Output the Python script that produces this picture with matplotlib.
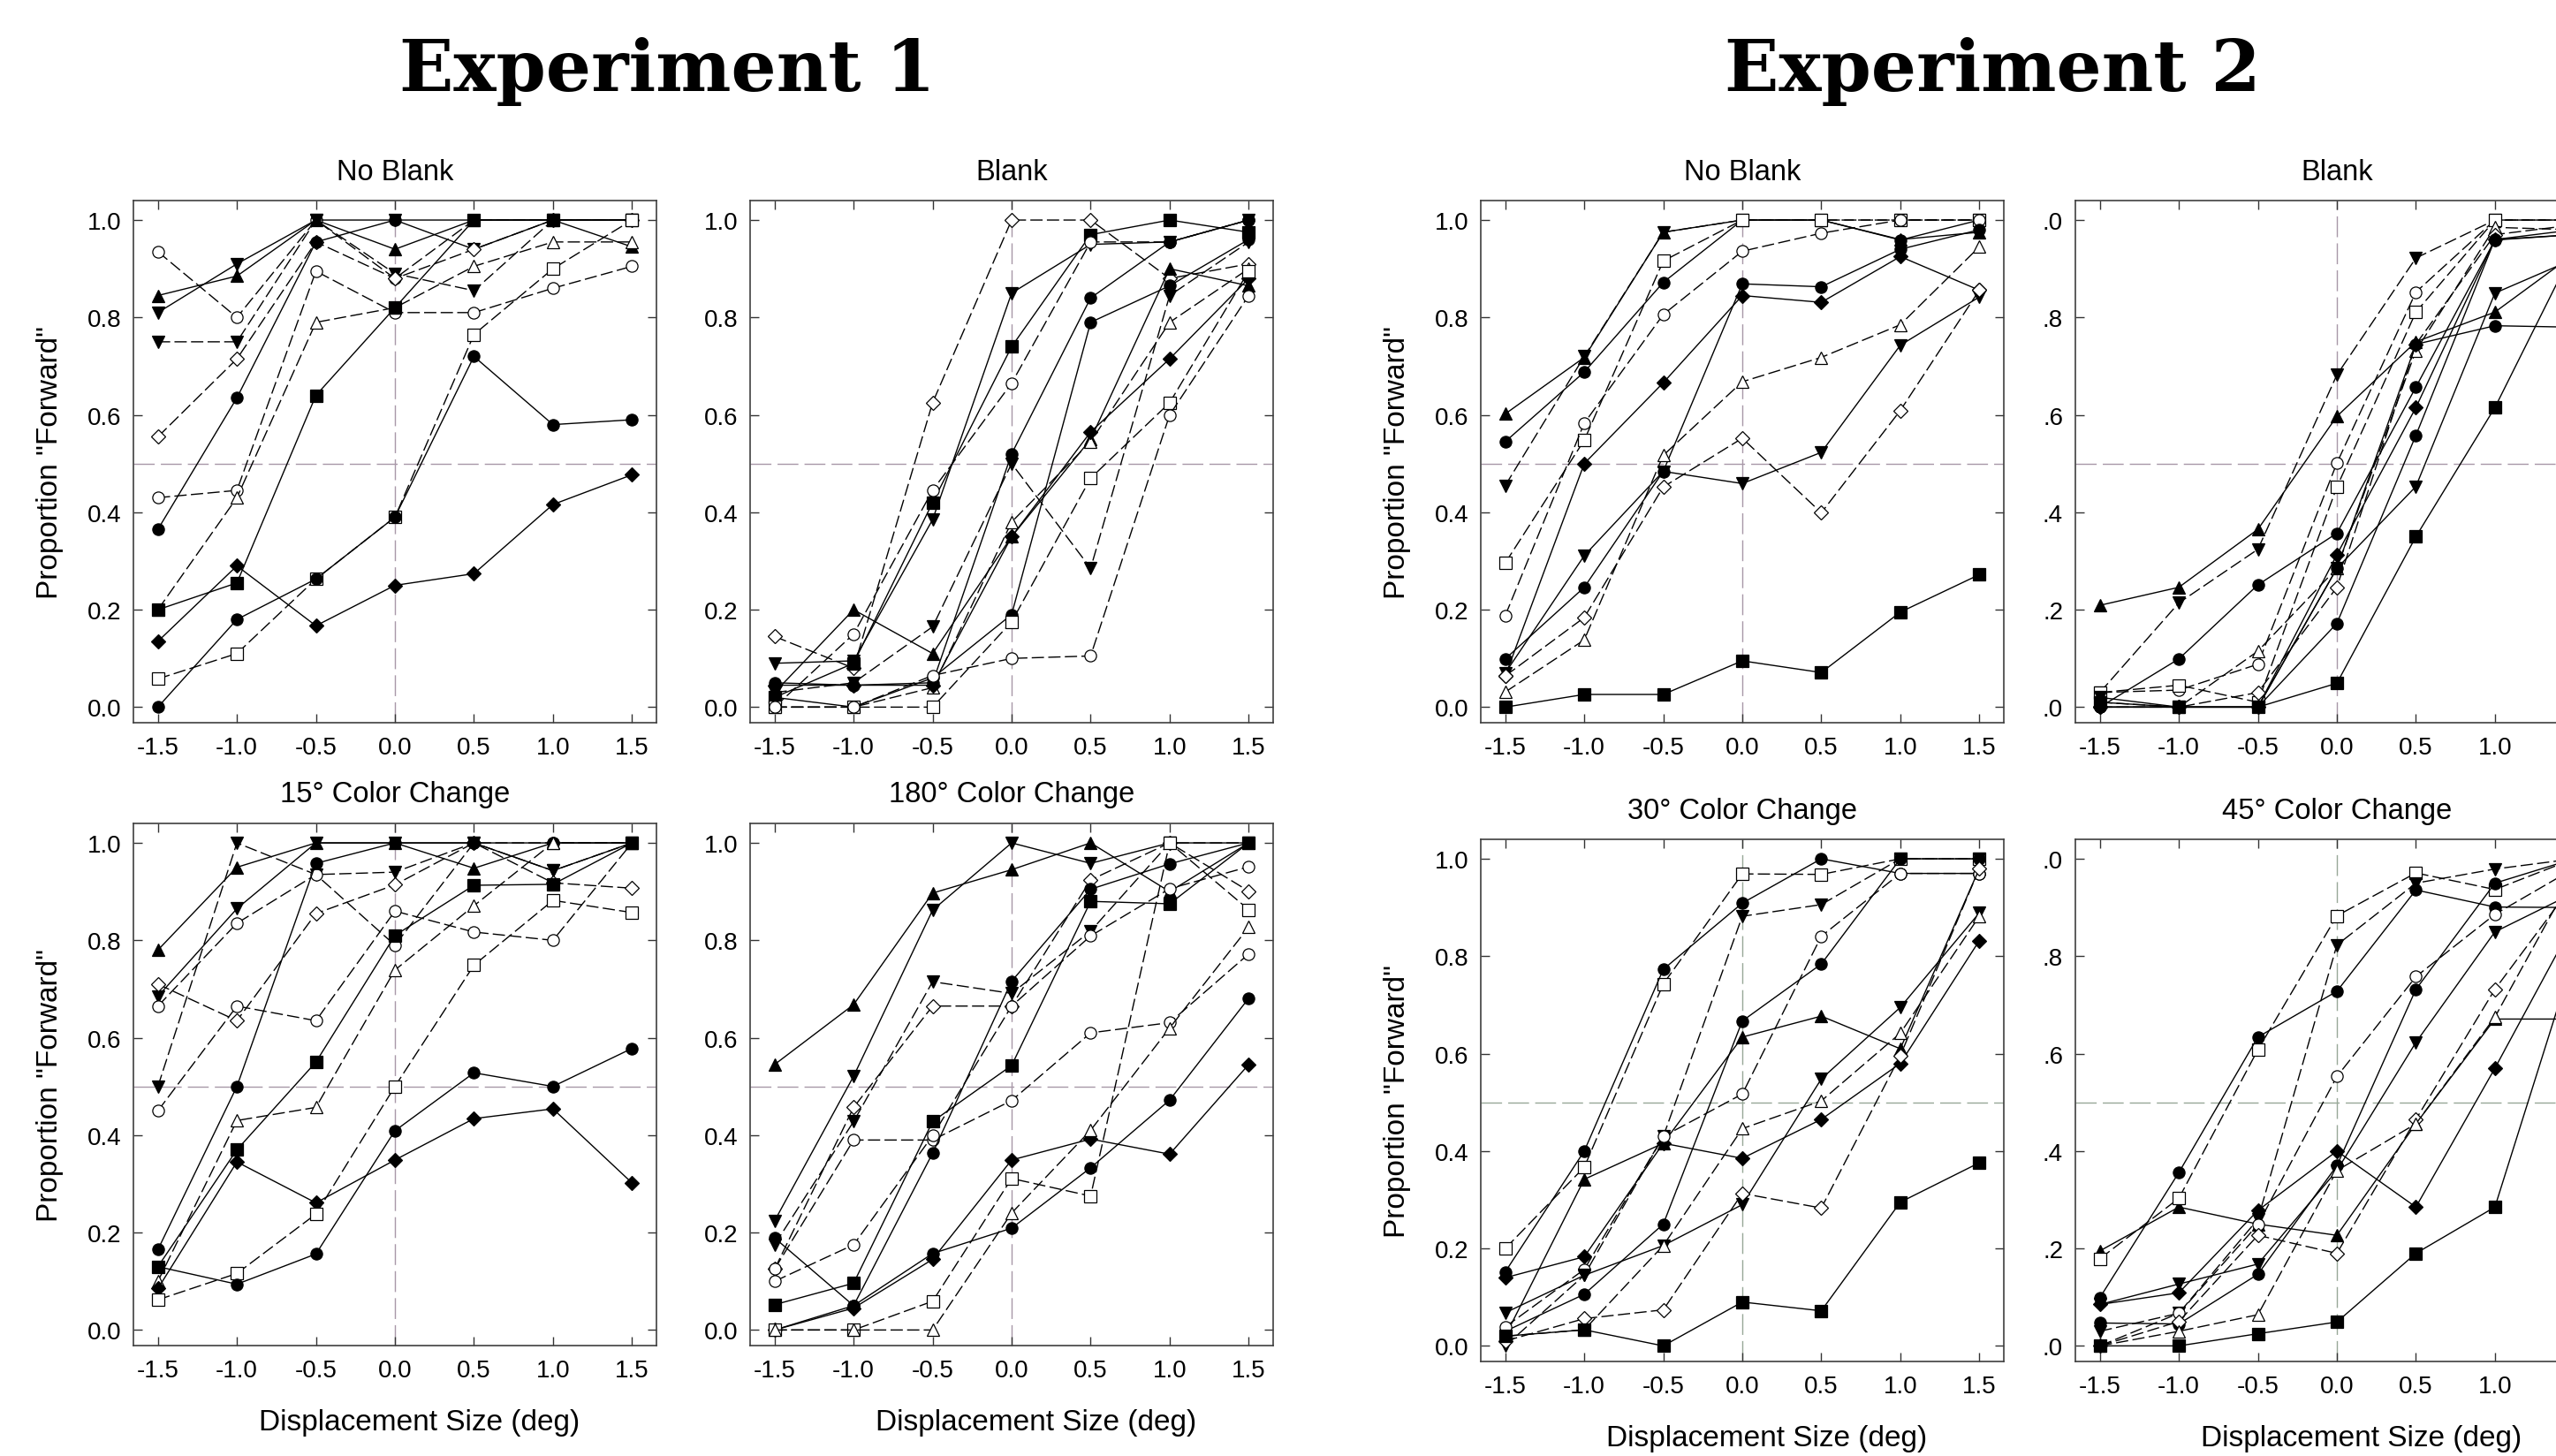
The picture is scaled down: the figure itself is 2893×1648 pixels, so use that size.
import matplotlib.pyplot as plt

plt.rcParams['font.family'] = ['Liberation Sans', 'DejaVu Sans']
plt.rcParams['axes.unicode_minus'] = False

x_disp = [-1.5, -1.0, -0.5, 0.0, 0.5, 1.0, 1.5]
y_ticks = [0.0, 0.2, 0.4, 0.6, 0.8, 1.0]

# each style is (marker, filled/open, line style)
e1_noblank_style = [('o', 'o', '--'), ('^', 'f', '-'), ('v', 'f', '-'), ('v', 'f', '--'),
                    ('D', 'o', '--'), ('o', 'o', '--'), ('^', 'o', '--'), ('o', 'f', '-'),
                    ('s', 'f', '-'), ('D', 'f', '-'), ('s', 'o', '--'), ('o', 'f', '-')]
e1_noblank = [
    [0.935, 0.80, 1.0, 0.88, 1.0, 1.0, 1.0],
    [0.845, 0.885, 1.0, 0.94, 1.0, 1.0, 0.945],
    [0.81, 0.91, 1.0, 1.0, 0.94, 1.0, 1.0],
    [0.75, 0.75, 1.0, 0.89, 0.855, 1.0, 1.0],
    [0.555, 0.715, 0.955, 0.88, 0.94, 1.0, 1.0],
    [0.43, 0.445, 0.895, 0.81, 0.81, 0.86, 0.905],
    [0.2, 0.43, 0.79, 0.82, 0.905, 0.955, 0.955],
    [0.365, 0.635, 0.955, 1.0, 1.0, 1.0, 1.0],
    [0.2, 0.255, 0.64, 0.82, 1.0, 1.0, 1.0],
    [0.135, 0.29, 0.167, 0.25, 0.274, 0.416, 0.477],
    [0.058, 0.11, 0.263, 0.39, 0.765, 0.9, 1.0],
    [0.0, 0.18, 0.263, 0.39, 0.72, 0.58, 0.59],
]

e1_blank_style = [('D', 'o', '--'), ('v', 'f', '-'), ('s', 'f', '-'), ('o', 'o', '--'),
                  ('o', 'f', '-'), ('v', 'f', '--'), ('^', 'f', '-'), ('^', 'o', '--'),
                  ('D', 'f', '-'), ('o', 'f', '-'), ('s', 'o', '--'), ('o', 'o', '--')]
e1_blank = [
    [0.145, 0.08, 0.625, 1.0, 1.0, 0.88, 0.91],
    [0.09, 0.095, 0.385, 0.85, 0.95, 0.955, 1.0],
    [0.02, 0.09, 0.42, 0.74, 0.97, 1.0, 0.975],
    [0.0, 0.15, 0.445, 0.665, 0.955, 0.955, 1.0],
    [0.05, 0.045, 0.05, 0.52, 0.84, 0.955, 1.0],
    [0.03, 0.05, 0.165, 0.5, 0.285, 0.845, 0.955],
    [0.03, 0.2, 0.11, 0.35, 0.55, 0.9, 0.865],
    [0.0, 0.0, 0.04, 0.38, 0.545, 0.79, 0.9],
    [0.045, 0.045, 0.045, 0.35, 0.565, 0.715, 0.88],
    [0.02, 0.0, 0.06, 0.19, 0.79, 0.865, 0.96],
    [0.0, 0.0, 0.0, 0.175, 0.47, 0.625, 0.895],
    [0.0, 0.0, 0.065, 0.1, 0.105, 0.6, 0.845],
]

e1_15_style = [('^', 'f', '-'), ('v', 'f', '--'), ('v', 'f', '-'), ('D', 'o', '--'),
               ('o', 'o', '--'), ('o', 'o', '--'), ('o', 'f', '-'), ('^', 'o', '--'),
               ('s', 'f', '-'), ('D', 'f', '-'), ('s', 'o', '--'), ('o', 'f', '-')]
e1_15 = [
    [0.78, 0.95, 1.0, 1.0, 0.948, 1.0, 1.0],
    [0.5, 1.0, 0.935, 0.94, 1.0, 0.943, 1.0],
    [0.685, 0.865, 1.0, 1.0, 1.0, 0.943, 1.0],
    [0.71, 0.635, 0.855, 0.914, 1.0, 0.918, 0.907],
    [0.665, 0.835, 0.935, 0.79, 1.0, 1.0, 1.0],
    [0.45, 0.665, 0.635, 0.86, 0.817, 0.8, 1.0],
    [0.165, 0.5, 0.958, 1.0, 1.0, 1.0, 1.0],
    [0.1, 0.43, 0.457, 0.739, 0.871, 1.0, 1.0],
    [0.13, 0.37, 0.55, 0.81, 0.913, 0.915, 1.0],
    [0.085, 0.345, 0.261, 0.349, 0.434, 0.454, 0.302],
    [0.062, 0.116, 0.238, 0.5, 0.749, 0.882, 0.857],
    [0.13, 0.094, 0.156, 0.409, 0.528, 0.5, 0.578],
]

e1_180_style = [('^', 'f', '-'), ('v', 'f', '-'), ('v', 'f', '--'), ('D', 'o', '--'),
                ('o', 'o', '--'), ('o', 'f', '-'), ('s', 'f', '-'), ('o', 'o', '--'),
                ('D', 'f', '-'), ('o', 'f', '-'), ('s', 'o', '--'), ('^', 'o', '--')]
e1_180 = [
    [0.545, 0.668, 0.897, 0.945, 1.0, 0.9, 1.0],
    [0.224, 0.521, 0.862, 1.0, 0.958, 1.0, 1.0],
    [0.175, 0.428, 0.715, 0.691, 0.819, 1.0, 1.0],
    [0.125, 0.457, 0.665, 0.665, 0.924, 1.0, 0.901],
    [0.125, 0.39, 0.39, 0.471, 0.61, 0.631, 0.772],
    [0.189, 0.05, 0.363, 0.716, 0.905, 0.957, 1.0],
    [0.052, 0.096, 0.428, 0.543, 0.88, 0.875, 1.0],
    [0.1, 0.175, 0.399, 0.665, 0.809, 0.906, 0.951],
    [0.0, 0.045, 0.145, 0.349, 0.392, 0.361, 0.545],
    [0.0, 0.05, 0.157, 0.209, 0.333, 0.472, 0.681],
    [0.0, 0.0, 0.059, 0.311, 0.275, 1.0, 0.863],
    [0.0, 0.0, 0.0, 0.24, 0.41, 0.62, 0.827],
]

e2_noblank_style = [('^', 'f', '-'), ('v', 'f', '--'), ('o', 'f', '-'), ('s', 'o', '--'),
                    ('o', 'o', '--'), ('D', 'f', '-'), ('o', 'f', '-'), ('v', 'f', '-'),
                    ('^', 'o', '--'), ('D', 'o', '--'), ('s', 'f', '-')]
e2_noblank = [
    [0.602, 0.718, 0.975, 1.0, 1.0, 0.96, 0.975],
    [0.455, 0.72, 0.975, 1.0, 1.0, 1.0, 1.0],
    [0.545, 0.688, 0.872, 1.0, 1.0, 0.959, 1.0],
    [0.296, 0.548, 0.916, 1.0, 1.0, 1.0, 1.0],
    [0.188, 0.583, 0.806, 0.936, 0.973, 1.0, 1.0],
    [0.064, 0.5, 0.666, 0.845, 0.831, 0.925, 0.856],
    [0.099, 0.246, 0.484, 0.869, 0.863, 0.94, 0.98],
    [0.07, 0.311, 0.484, 0.459, 0.523, 0.743, 0.842],
    [0.031, 0.138, 0.517, 0.668, 0.718, 0.785, 0.945],
    [0.064, 0.184, 0.452, 0.552, 0.399, 0.609, 0.856],
    [0.0, 0.026, 0.026, 0.095, 0.071, 0.195, 0.272],
]

e2_blank_style = [('^', 'f', '-'), ('v', 'f', '--'), ('o', 'f', '-'), ('o', 'o', '--'),
                  ('s', 'o', '--'), ('^', 'o', '--'), ('D', 'o', '--'), ('D', 'f', '-'),
                  ('o', 'f', '-'), ('v', 'f', '-'), ('s', 'f', '-'), ('o', 'f', '-')]
e2_blank = [
    [0.209, 0.246, 0.365, 0.597, 0.75, 0.811, 0.93],
    [0.03, 0.214, 0.324, 0.682, 0.922, 1.0, 1.0],
    [0.0, 0.099, 0.251, 0.357, 0.657, 0.959, 0.97],
    [0.03, 0.035, 0.088, 0.501, 0.852, 1.0, 1.0],
    [0.03, 0.045, 0.01, 0.452, 0.811, 1.0, 1.0],
    [0.01, 0.0, 0.115, 0.285, 0.732, 0.985, 0.98],
    [0.0, 0.0, 0.03, 0.246, 0.745, 0.97, 0.99],
    [0.0, 0.0, 0.0, 0.313, 0.615, 0.96, 0.97],
    [0.0, 0.0, 0.0, 0.172, 0.558, 0.96, 0.98],
    [0.02, 0.0, 0.0, 0.285, 0.453, 0.85, 0.92],
    [0.01, 0.0, 0.0, 0.049, 0.35, 0.615, 0.94],
    [0.0, 0.0, 0.0, 0.285, 0.745, 0.783, 0.78],
]

e2_30_style = [('s', 'o', '--'), ('o', 'f', '-'), ('^', 'f', '-'), ('v', 'f', '--'),
               ('D', 'f', '-'), ('o', 'f', '-'), ('o', 'o', '--'), ('v', 'f', '-'),
               ('^', 'o', '--'), ('D', 'o', '--'), ('s', 'f', '-')]
e2_30 = [
    [0.2, 0.367, 0.743, 0.969, 0.968, 1.0, 1.0],
    [0.152, 0.4, 0.773, 0.909, 1.0, 0.97, 0.97],
    [0.02, 0.342, 0.416, 0.634, 0.677, 0.61, 0.98],
    [0.0, 0.145, 0.43, 0.882, 0.906, 1.0, 1.0],
    [0.14, 0.183, 0.416, 0.385, 0.465, 0.58, 0.832],
    [0.03, 0.106, 0.25, 0.667, 0.784, 1.0, 1.0],
    [0.039, 0.157, 0.43, 0.517, 0.841, 0.97, 0.97],
    [0.068, 0.145, 0.206, 0.29, 0.548, 0.695, 0.889],
    [0.02, 0.033, 0.206, 0.446, 0.503, 0.642, 0.882],
    [0.01, 0.056, 0.074, 0.313, 0.283, 0.596, 0.98],
    [0.02, 0.033, 0.0, 0.09, 0.072, 0.295, 0.376],
]

e2_45_style = [('^', 'f', '-'), ('s', 'o', '--'), ('o', 'f', '-'), ('v', 'f', '--'),
               ('D', 'f', '-'), ('o', 'o', '--'), ('v', 'f', '-'), ('o', 'f', '-'),
               ('D', 'o', '--'), ('^', 'o', '--'), ('s', 'f', '-')]
e2_45 = [
    [0.195, 0.285, 0.25, 0.227, 0.456, 0.671, 0.671],
    [0.179, 0.303, 0.608, 0.883, 0.971, 0.937, 1.0],
    [0.099, 0.356, 0.634, 0.728, 0.936, 0.901, 0.9],
    [0.03, 0.067, 0.26, 0.823, 0.95, 0.979, 1.0],
    [0.085, 0.109, 0.278, 0.4, 0.285, 0.57, 0.87],
    [0.0, 0.067, 0.249, 0.553, 0.758, 0.886, 0.98],
    [0.085, 0.127, 0.168, 0.36, 0.623, 0.85, 0.93],
    [0.047, 0.045, 0.147, 0.37, 0.732, 0.95, 1.0],
    [0.0, 0.05, 0.227, 0.19, 0.465, 0.732, 0.95],
    [0.0, 0.03, 0.064, 0.36, 0.456, 0.675, 0.97],
    [0.0, 0.0, 0.025, 0.049, 0.19, 0.285, 0.8],
]

MSIZE = {'o': 9.5, 's': 9.5, '^': 10.5, 'v': 10.5, 'D': 8}
W, H = 2893, 1649


def panel(rect, series, styles, title, ref_color, title_pad=17,
          ylabel=False, xlabel=False, xlabel_y=-0.147, cut_labels=False):
    ax = fig.add_axes(rect)
    ax.axhline(0.5, color=ref_color, lw=1.0, dashes=(17, 5), zorder=1)
    ax.axvline(0.0, color=ref_color, lw=1.0, dashes=(17, 5), zorder=1)
    for vals, (m, fill, ls) in zip(series, styles):
        kw = dict(color='black', lw=1.0, marker=m, ms=MSIZE[m],
                  mfc='black' if fill == 'f' else 'white', mec='black', mew=0.9, zorder=3)
        if ls == '--':
            kw['dashes'] = (10, 3.5)
        ax.plot(x_disp, vals, **kw)
    ax.set_xlim(-1.655, 1.655)
    ax.set_ylim(-0.032, 1.04)
    if cut_labels:
        # the right edge of these panels falls outside the picture
        ax.set_xticks(x_disp, labels=[f'{v:.1f}' if v < 1.5 else '' for v in x_disp])
        ax.set_yticks(y_ticks, labels=[f'{v:.1f}'[1:] for v in y_ticks])
    else:
        ax.set_xticks(x_disp, labels=[f'{v:.1f}' for v in x_disp])
        ax.set_yticks(y_ticks, labels=[f'{v:.1f}' for v in y_ticks])
    ax.tick_params(direction='in', top=True, right=True, length=7, width=1,
                   labelsize=20, color='#333333')
    ax.tick_params(axis='x', pad=11)
    ax.tick_params(axis='y', pad=10)
    for s in ax.spines.values():
        s.set_linewidth(1.2)
        s.set_color('#404040')
    ax.set_title(title, fontsize=23.5, pad=title_pad)
    if ylabel:
        ax.set_ylabel('Proportion "Forward"', fontsize=24, va='center')
        ax.yaxis.set_label_coords(-94 / (rect[2] * W), 0.5)
    if xlabel:
        ax.set_xlabel('Displacement Size (deg)', fontsize=24, va='center')
        ax.xaxis.set_label_coords(0.547, xlabel_y)
    return ax


fig = plt.figure(figsize=(W / 100, H / 100), dpi=100)
fig.patch.set_facecolor('white')

pw, ph = 592 / W, 591 / H
top_b = 1 - 819 / H
e1_bot_b = 1 - 1524 / H
e2_bot_b = 1 - 1542 / H
x1, x2, x5, x6 = 151 / W, 849 / W, 1676 / W, 2349 / W
mag = '#a898a8'
grn = '#98a898'

panel([x1, top_b, pw, ph], e1_noblank, e1_noblank_style, 'No Blank', mag, ylabel=True)
panel([x2, top_b, pw, ph], e1_blank, e1_blank_style, 'Blank', mag)
panel([x1, e1_bot_b, pw, ph], e1_15, e1_15_style, '15° Color Change', mag,
      title_pad=18, ylabel=True, xlabel=True)
panel([x2, e1_bot_b, pw, ph], e1_180, e1_180_style, '180° Color Change', mag,
      title_pad=18, xlabel=True)
panel([x5, top_b, pw, ph], e2_noblank, e2_noblank_style, 'No Blank', mag, ylabel=True)
panel([x6, top_b, pw, ph], e2_blank, e2_blank_style, 'Blank', mag, cut_labels=True)
panel([x5, e2_bot_b, pw, ph], e2_30, e2_30_style, '30° Color Change', grn,
      ylabel=True, xlabel=True)
panel([x6, e2_bot_b, pw, ph], e2_45, e2_45_style, '45° Color Change', grn,
      xlabel=True, cut_labels=True)

fig.text(755 / W, 1 - 103 / H, 'Experiment 1', ha='center', va='baseline',
         fontsize=58, fontweight='bold', family='DejaVu Serif')
fig.text(2255 / W, 1 - 103 / H, 'Experiment 2', ha='center', va='baseline',
         fontsize=58, fontweight='bold', family='DejaVu Serif')

fig.savefig('out.png', dpi=100)
